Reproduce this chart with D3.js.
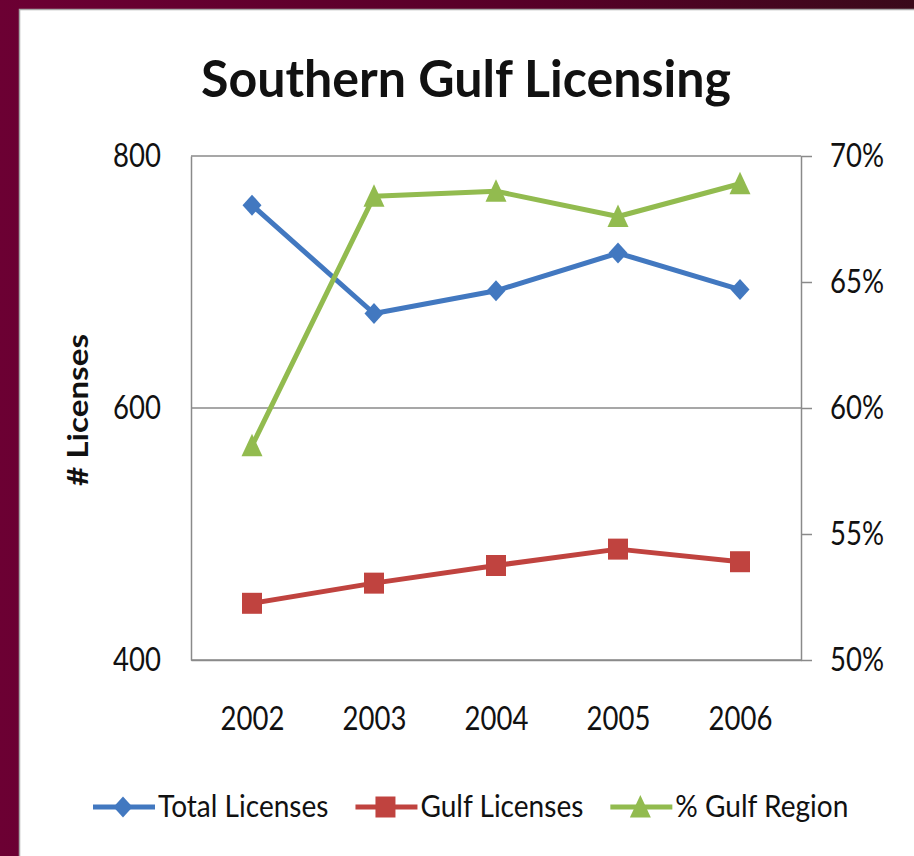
<!DOCTYPE html>
<html>
<head>
<meta charset="utf-8">
<script src="https://cdn.jsdelivr.net/npm/d3@7"></script>
<style>
  html, body { margin: 0; padding: 0; background: #5a0028; }
  svg { display: block; }
  text { font-family: Lato, "Open Sans", "DejaVu Sans", sans-serif; fill: #111; }
</style>
</head>
<body>
<svg id="chart" width="914" height="856"></svg>
<script>
// Licensing counts per year and the Gulf share of the total
const years = ["2002", "2003", "2004", "2005", "2006"];
const totalLicenses = [761, 675, 693, 723, 694];
const gulfLicenses = [445, 461, 475, 488, 478];
const gulfSharePct = [58.5, 68.4, 68.6, 67.6, 68.9];
const countTicks = [400, 600, 800];
const shareTicks = [50, 55, 60, 65, 70];
const seriesNames = ["Total Licenses", "Gulf Licenses", "% Gulf Region"];

const W = 914, H = 856;
const plot = { left: 191, right: 801, top: 156, bottom: 660 };

const svg = d3.select("#chart");

// Slide-style maroon backdrop behind a white chart panel
const defs = svg.append("defs");
const grad = defs.append("linearGradient").attr("id", "bg")
  .attr("x1", "0%").attr("y1", "0%").attr("x2", "100%").attr("y2", "0%");
grad.append("stop").attr("offset", "0%").attr("stop-color", "#6c0033");
grad.append("stop").attr("offset", "60%").attr("stop-color", "#560027");
grad.append("stop").attr("offset", "100%").attr("stop-color", "#3a0a1a");
svg.append("rect").attr("width", W).attr("height", H).attr("fill", "url(#bg)");
svg.append("rect").attr("x", 19.5).attr("y", 9.5).attr("width", W).attr("height", H)
  .attr("fill", "#fff").attr("stroke", "#a8a8a8").attr("stroke-width", 1.5);

// Shrinks a text run horizontally so it reads as a narrow face
function squeeze(sel, k) {
  sel.each(function () {
    const w = this.getComputedTextLength();
    d3.select(this).attr("textLength", w * k).attr("lengthAdjust", "spacingAndGlyphs");
  });
}

const x = d3.scalePoint().domain(years).range([plot.left, plot.right]).padding(0.5);
const y = d3.scaleLinear().domain([400, 800]).range([plot.bottom, plot.top]);
const y2 = d3.scaleLinear().domain([50, 70]).range([plot.bottom, plot.top]);

const gridColor = "#8a8a8a";
const tickFont = 32;

// Horizontal gridlines at the count ticks
svg.append("g").selectAll("line").data(countTicks).join("line")
  .attr("x1", plot.left).attr("x2", plot.right)
  .attr("y1", d => y(d)).attr("y2", d => y(d))
  .attr("stroke", gridColor).attr("stroke-width", 1.5);

// Left count axis
const leftAxis = svg.append("g").attr("transform", `translate(${plot.left},0)`)
  .call(d3.axisLeft(y).tickValues(countTicks).tickSize(0).tickPadding(30));
leftAxis.select(".domain").attr("stroke", gridColor).attr("stroke-width", 1.5);
leftAxis.selectAll("text").attr("font-size", tickFont).attr("font-family", null).attr("fill", "#111");

// Right percentage axis
const rightAxis = svg.append("g").attr("transform", `translate(${plot.right},0)`)
  .call(d3.axisRight(y2).tickValues(shareTicks).tickSize(11).tickSizeOuter(0)
    .tickPadding(18).tickFormat(d => d + "%"));
rightAxis.select(".domain").attr("stroke", gridColor).attr("stroke-width", 1.5);
rightAxis.selectAll(".tick line").attr("stroke", gridColor).attr("stroke-width", 1.5);
rightAxis.selectAll("text").attr("font-size", tickFont).attr("font-family", null).attr("fill", "#111");

// Bottom category axis
const bottomAxis = svg.append("g").attr("transform", `translate(0,${plot.bottom})`)
  .call(d3.axisBottom(x).tickSize(0).tickSizeOuter(0));
bottomAxis.select(".domain").attr("stroke", gridColor).attr("stroke-width", 1.5);
bottomAxis.selectAll("text").attr("font-size", tickFont).attr("font-family", null)
  .attr("fill", "#111").attr("y", 70).attr("dy", null);

squeeze(svg.selectAll(".tick text"), 0.86);

// Title and axis title
const title = svg.append("text").attr("x", 466).attr("y", 97)
  .attr("text-anchor", "middle").attr("font-size", 52).attr("font-weight", 700)
  .text("Southern Gulf Licensing");
squeeze(title, 530 / title.node().getComputedTextLength());

const yTitle = svg.append("text").attr("transform", "translate(88,410) rotate(-90)")
  .attr("text-anchor", "middle").attr("font-size", 29).attr("font-weight", 700)
  .text("# Licenses");
squeeze(yTitle, 152 / yTitle.node().getComputedTextLength());

// Marker shapes, centred on the origin
const markers = {
  diamond: "M0,-10.5L9.5,0L0,10.5L-9.5,0Z",
  square: "M-10,-10.5H10V10.5H-10Z",
  triangle: "M0,-12L10.5,10.5H-10.5Z"
};

const series = [
  { name: seriesNames[0], values: totalLicenses, scale: y, color: "#4278c0", marker: markers.diamond },
  { name: seriesNames[1], values: gulfLicenses, scale: y, color: "#c0433f", marker: markers.square },
  { name: seriesNames[2], values: gulfSharePct, scale: y2, color: "#92bb4f", marker: markers.triangle }
];

series.forEach(s => {
  const pts = s.values.map((v, i) => [x(years[i]), s.scale(v)]);
  svg.append("path").attr("d", d3.line()(pts))
    .attr("fill", "none").attr("stroke", s.color).attr("stroke-width", 5)
    .attr("stroke-linejoin", "round");
  svg.append("g").selectAll("path").data(pts).join("path")
    .attr("transform", d => `translate(${d[0]},${d[1]})`)
    .attr("d", s.marker).attr("fill", s.color);
});

// Legend row
const legend = svg.append("g").attr("transform", "translate(0,807)");
let lx = 93;
series.forEach(s => {
  const g = legend.append("g").attr("transform", `translate(${lx},0)`);
  g.append("line").attr("x1", 0).attr("x2", 62).attr("stroke", s.color).attr("stroke-width", 5);
  g.append("path").attr("transform", "translate(30,0)").attr("d", s.marker).attr("fill", s.color);
  const t = g.append("text").attr("x", 65).attr("y", 10).attr("font-size", 31).text(s.name);
  squeeze(t, 0.905);
  lx += 65 + (+t.attr("textLength")) + 27;
});
</script>
</body>
</html>
